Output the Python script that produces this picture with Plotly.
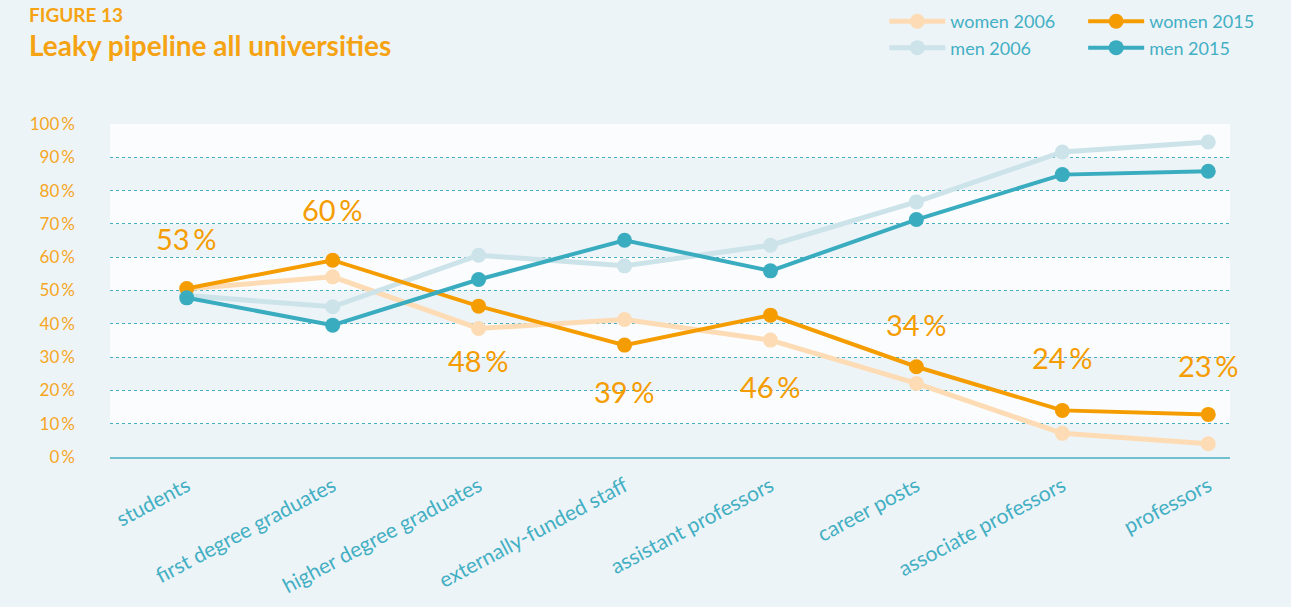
import plotly.graph_objects as go

# categories along the pipeline
stages = ["students", "first degree graduates", "higher degree graduates",
          "externally-funded staff", "assistant professors", "career posts",
          "associate professors", "professors"]

# shares in percent
women_2006 = [50.5, 54.1, 38.6, 41.3, 35.1, 22.1, 7.1, 4.0]
men_2006 = [48.5, 45.1, 60.6, 57.4, 63.6, 76.6, 91.6, 94.6]
women_2015 = [50.6, 59.1, 45.3, 33.6, 42.6, 27.1, 14.0, 12.8]
men_2015 = [47.8, 39.6, 53.3, 65.1, 55.9, 71.3, 84.8, 85.8]

# callout numbers and where they sit (y in axis units)
callouts = [53, 60, 48, 39, 46, 34, 24, 23]
callout_y = [65.6, 74.4, 29.0, 19.6, 21.3, 39.9, 29.8, 27.4]

yticks = list(range(0, 101, 10))

BG = "#edf4f8"
BAND = "#fafcfd"
TEAL = "#3aacbf"
ORANGE = "#f59c00"
FONT = "Lato"

fig = go.Figure()

series = [
    ("women 2006", women_2006, "#fddcb5", 5, "legend"),
    ("men 2006", men_2006, "#cce3ea", 5, "legend"),
    ("women 2015", women_2015, ORANGE, 4, "legend2"),
    ("men 2015", men_2015, TEAL, 4, "legend2"),
]
for name, vals, col, w, leg in series:
    fig.add_trace(go.Scatter(
        x=stages, y=vals, name=name, mode="lines+markers",
        line=dict(color=col, width=w),
        marker=dict(color=col, size=15),
        legend=leg, legendgroup=name, hoverinfo="skip"))

# alternating light bands
for lo in range(10, 100, 20):
    fig.add_shape(type="rect", xref="paper", yref="y", x0=0, x1=1, y0=lo, y1=lo + 10,
                  fillcolor=BAND, line_width=0, layer="below")

for st, val, yy in zip(stages, callouts, callout_y):
    fig.add_annotation(x=st, y=yy, text=f"{val}\u2009%", showarrow=False,
                       font=dict(family=FONT, size=29, color=ORANGE))

fig.add_annotation(xref="paper", yref="paper", x=-0.0741, y=1.33, xanchor="left", yanchor="middle",
                   text="<b>FIGURE 13</b>", showarrow=False,
                   font=dict(family=FONT, size=19, color="#f5a312"))
fig.add_annotation(xref="paper", yref="paper", x=-0.0741, y=1.237, xanchor="left", yanchor="middle",
                   text="<b>Leaky pipeline all universities</b>", showarrow=False,
                   font=dict(family=FONT, size=28, color="#f5a312"))

leg_common = dict(orientation="v", bgcolor="rgba(0,0,0,0)", itemwidth=56,
                  font=dict(family=FONT, size=18, color="#43afc3"),
                  tracegroupgap=0, yanchor="top", xanchor="left", itemclick=False,
                  xref="container", yref="container")
fig.update_layout(
    width=1291, height=607,
    margin=dict(l=110, r=61, t=124, b=150, autoexpand=False),
    paper_bgcolor=BG, plot_bgcolor=BG,
    showlegend=True,
    legend=dict(x=0.685, y=0.995, **leg_common),
    legend2=dict(x=0.839, y=0.995, **leg_common),
    xaxis=dict(range=[-0.526, 7.149], showgrid=False, zeroline=False,
               showline=True, linecolor="#72c0cd", linewidth=1.5,
               tickangle=-28, ticks="", ticklabelstandoff=7,
               tickfont=dict(family=FONT, size=21, color="#43afc3")),
    yaxis=dict(range=[0, 100], tickvals=yticks, ticktext=[f"{v}\u2009%" for v in yticks],
               showgrid=True, gridcolor="#45b0c4", griddash="dot", gridwidth=1,
               zeroline=False, showline=False, ticks="", ticklabelstandoff=34,
               tickfont=dict(family=FONT, size=17, color="#f5a623")),
)

fig.write_html("out.html", config={"displayModeBar": False},
               post_script="document.body.style.margin='0';document.body.style.overflow='hidden';")
